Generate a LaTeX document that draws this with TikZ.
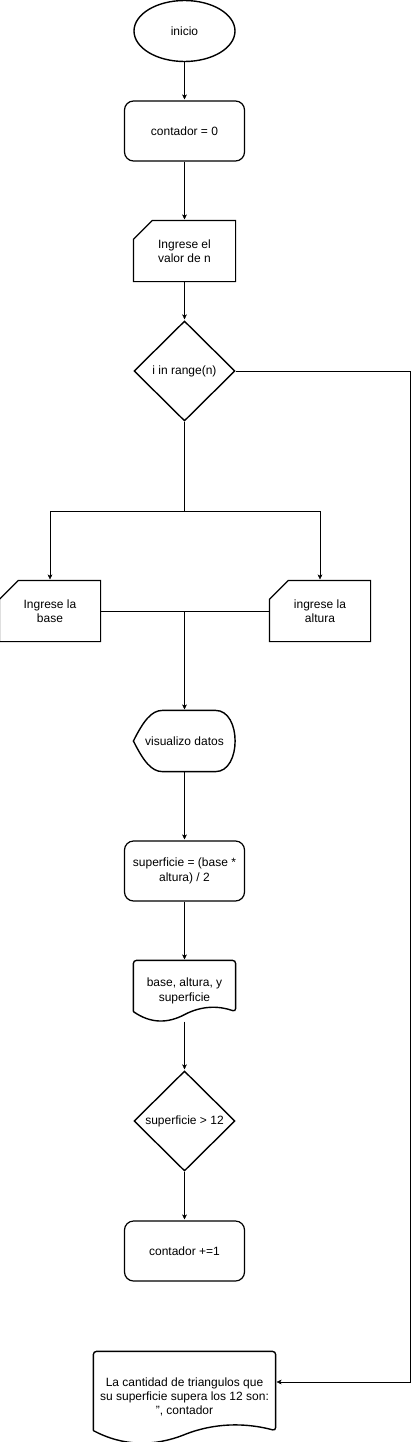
\documentclass[tikz,border=0pt]{standalone}
\usepackage{fontspec}
\setmainfont{Liberation Sans}
\usepackage{tikz}
\usetikzlibrary{arrows.meta}
\usetikzlibrary{shapes.geometric}

\begin{document}
\begin{tikzpicture}[x=1pt,y=-1pt]
\tikzset{font=\fontsize{12pt}{14.4pt}\selectfont}
\tikzset{line width=1.2pt}
\tikzset{every node/.style={align=center, inner sep=0pt}}
\tikzset{startstop/.style={draw, line width=1.4pt, ellipse, minimum width=101pt, minimum height=61pt}}
\tikzset{process/.style={draw, line width=1.2pt, rounded corners=9pt, minimum width=120pt, minimum height=60pt}}
\tikzset{decision/.style={draw, line width=1.4pt, diamond, aspect=1, minimum width=101pt, minimum height=100pt}}
\tikzset{blank/.style={minimum width=101pt, minimum height=60pt}}
\tikzset{outline/.style={draw, line width=1.2pt}}
\tikzset{flow/.style={draw, -{Stealth[length=7pt, width=6.5pt, inset=2pt]}}}
\useasboundingbox (0,0) rectangle (419,1442);

\node[startstop] (inicio) at (184.5,31) {inicio};
\node[process] (cero) at (184.5,131) {contador = 0};
\node[blank] (leern) at (184.5,251) {Ingrese el\\valor de n};
\node[decision] (rango) at (184.5,371) {i in range(n)};
\node[blank, minimum width=100pt] (leerbase) at (50,611) {Ingrese la\\base};
\node[blank, minimum width=100pt] (leeralt) at (320,611) {ingrese la\\altura};
\node[blank] (visual) at (184.5,741) {visualizo datos};
\node[process] (area) at (184.5,871) {superficie = (base *\\altura) / 2};
\node[blank] (mostrar) at (184.5,991) {base, altura, y\\superficie};
\node[decision] (mayor) at (184.5,1121) {superficie {\textgreater} 12};
\node[process] (suma) at (184.5,1251) {contador +=1};
\node[blank, minimum width=181pt, minimum height=90pt] (salida) at (184.5,1397) {La cantidad de triangulos que\\su superficie supera los 12 son:\\{\char34}, contador};

\draw[outline] ([yshift=-19pt]leern.north west) -- ([xshift=19pt]leern.north west) -- (leern.north east) -- (leern.south east) -- (leern.south west) -- cycle;
\draw[outline] ([yshift=-19pt]leerbase.north west) -- ([xshift=19pt]leerbase.north west) -- (leerbase.north east) -- (leerbase.south east) -- (leerbase.south west) -- cycle;
\draw[outline] ([yshift=-19pt]leeralt.north west) -- ([xshift=19pt]leeralt.north west) -- (leeralt.north east) -- (leeralt.south east) -- (leeralt.south west) -- cycle;

\draw[outline, line width=1.4pt] (visual.west) .. controls ([xshift=10pt,yshift=20pt]visual.west) and ([xshift=18pt]visual.north west) .. ([xshift=29pt]visual.north west) -- ([xshift=-20pt]visual.north east) .. controls ([xshift=6pt]visual.north east) and ([xshift=6pt]visual.south east) .. ([xshift=-20pt]visual.south east) -- ([xshift=29pt]visual.south west) .. controls ([xshift=18pt]visual.south west) and ([xshift=10pt,yshift=-20pt]visual.west) .. cycle;

\draw[outline, line width=1.4pt, rounded corners=3pt] ([yshift=10pt]mostrar.south west) -- (mostrar.north west) -- (mostrar.north east) -- ([yshift=10pt]mostrar.south east) [sharp corners] .. controls ([xshift=-17pt,yshift=16pt]mostrar.south east) and ([xshift=17pt,yshift=16pt]mostrar.south) .. ([yshift=7pt]mostrar.south) .. controls ([xshift=-17pt,yshift=-2pt]mostrar.south) and ([xshift=17pt,yshift=-2pt]mostrar.south west) .. ([yshift=10pt]mostrar.south west);

\draw[outline, line width=1.4pt, rounded corners=3pt] ([yshift=12pt]salida.south west) -- (salida.north west) -- (salida.north east) -- ([yshift=12pt]salida.south east) [sharp corners] .. controls ([xshift=-30pt,yshift=20pt]salida.south east) and ([xshift=30pt,yshift=20pt]salida.south) .. ([yshift=8pt]salida.south) .. controls ([xshift=-30pt,yshift=-4pt]salida.south) and ([xshift=30pt,yshift=-4pt]salida.south west) .. ([yshift=12pt]salida.south west);

\coordinate (reparto) at (184.5,511);
\coordinate (union) at (184.5,611);
\coordinate (vuelta) at (410.5,371);

\draw[flow] (inicio) -- (cero);
\draw[flow] (cero) -- (leern);
\draw[flow] (leern) -- (rango);
\draw (rango.south) -- (reparto);
\draw[flow] (reparto) -| (leerbase.north);
\draw[flow] (reparto) -| (leeralt.north);
\draw (leerbase.east) -- (leeralt.west);
\draw[flow] (union) -- (visual.north);
\draw[flow] (visual) -- (area);
\draw[flow] (area) -- (mostrar);
\draw[flow] (mostrar) -- (mayor);
\draw[flow] (mayor) -- (suma);
\draw[flow] (rango.east) -- (vuelta) |- ([yshift=15pt]salida.east);
\end{tikzpicture}
\end{document}
